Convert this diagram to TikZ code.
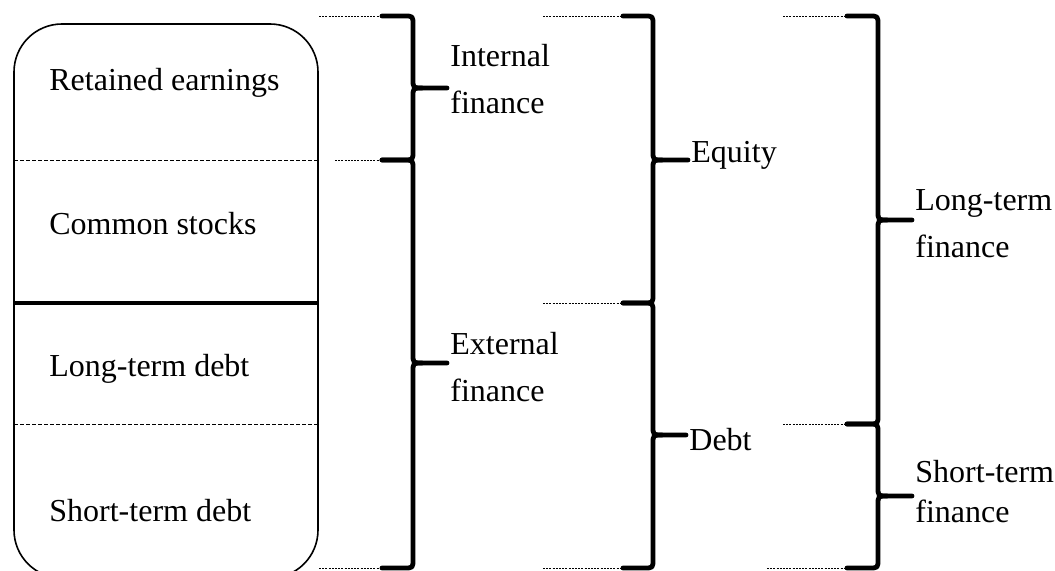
\documentclass[tikz,border=0pt]{standalone}
\usepackage{fontspec}
\setmainfont{Liberation Serif}
\tikzset{
  boxline/.style={line width=0.8pt},
  thindash/.style={line width=0.45pt, dash pattern=on 2pt off 1pt},
  thickdiv/.style={line width=2pt},
  guide/.style={line width=0.4pt, dash pattern=on 1pt off 0.6pt},
  bracestyle/.style={line width=2.4pt, line cap=round, line join=round},
  lbl/.style={anchor=base west, inner sep=0pt, font=\fontsize{16}{23.5}\selectfont, align=left},
}
\newcommand\fbrace[6]{%
  \draw[bracestyle] (#1,#4) -- (#2-9,#4) .. controls (#2,#4) .. (#2,#4+9) -- (#2,#5-9) .. controls (#2,#5) .. (#2+9,#5) -- (#3,#5);
  \draw[bracestyle] (#1,#6) -- (#2-9,#6) .. controls (#2,#6) .. (#2,#6-9) -- (#2,#5+9) .. controls (#2,#5) .. (#2+9,#5);
}
\begin{document}
\begin{tikzpicture}[x=0.5pt,y=-0.5pt]
\useasboundingbox (0,0) rectangle (1055,571);
% stacked box
\draw[boxline, rounded corners=24pt] (14,24) rectangle (318,578);
\coordinate (bL1) at (14,160); \coordinate (bR1) at (318,160);
\coordinate (bL2) at (14,303); \coordinate (bR2) at (318,303);
\coordinate (bL3) at (14,424); \coordinate (bR3) at (318,424);
\draw[thindash] (bL1) -- (bR1);
\draw[thickdiv] (bL2) -- (bR2);
\draw[thindash] (bL3) -- (bR3);
\node[lbl] (re) at (49,91) {Retained earnings};
\node[lbl] (cs) at (49,235) {Common stocks};
\node[lbl] (ltd) at (49,377) {Long-term debt};
\node[lbl] (std) at (49,522) {Short-term debt};
% guide lines column 1
\coordinate (g1a) at (319,16);  \coordinate (e1a) at (382,16);
\coordinate (g1b) at (335,160); \coordinate (e1b) at (382,160);
\coordinate (g1c) at (319,568); \coordinate (e1c) at (382,568);
\draw[guide] (g1a) -- (e1a);
\draw[guide] (g1b) -- (e1b);
\draw[guide] (g1c) -- (e1c);
% guide lines column 2
\coordinate (g2a) at (543,16);  \coordinate (e2a) at (623,16);
\coordinate (g2b) at (543,303); \coordinate (e2b) at (623,303);
\coordinate (g2c) at (543,568); \coordinate (e2c) at (623,568);
\draw[guide] (g2a) -- (e2a);
\draw[guide] (g2b) -- (e2b);
\draw[guide] (g2c) -- (e2c);
% guide lines column 3
\coordinate (g3a) at (783,16);  \coordinate (e3a) at (847,16);
\coordinate (g3b) at (783,424); \coordinate (e3b) at (847,424);
\coordinate (g3c) at (767,568); \coordinate (e3c) at (847,568);
\draw[guide] (g3a) -- (e3a);
\draw[guide] (g3b) -- (e3b);
\draw[guide] (g3c) -- (e3c);
% braces
\fbrace{382}{413}{447}{16}{88}{160}
\fbrace{382}{413}{447}{160}{363}{568}
\fbrace{623}{653}{688}{16}{160}{303}
\fbrace{623}{653}{686}{303}{435}{568}
\fbrace{847}{878}{912}{16}{220}{424}
\fbrace{847}{878}{912}{424}{496}{568}
% labels (anchor = baseline of last line)
\node[lbl] (inf) at (450,114) {Internal\\finance};
\node[lbl] (exf) at (450,402) {External\\finance};
\node[lbl] (eq) at (691,163) {Equity};
\node[lbl] (db) at (689,451) {Debt};
\node[lbl] (ltf) at (915,258) {Long-term\\finance};
\node[lbl] (stf) at (915,523) {Short-term\\[-3pt]finance};
\end{tikzpicture}
\end{document}
